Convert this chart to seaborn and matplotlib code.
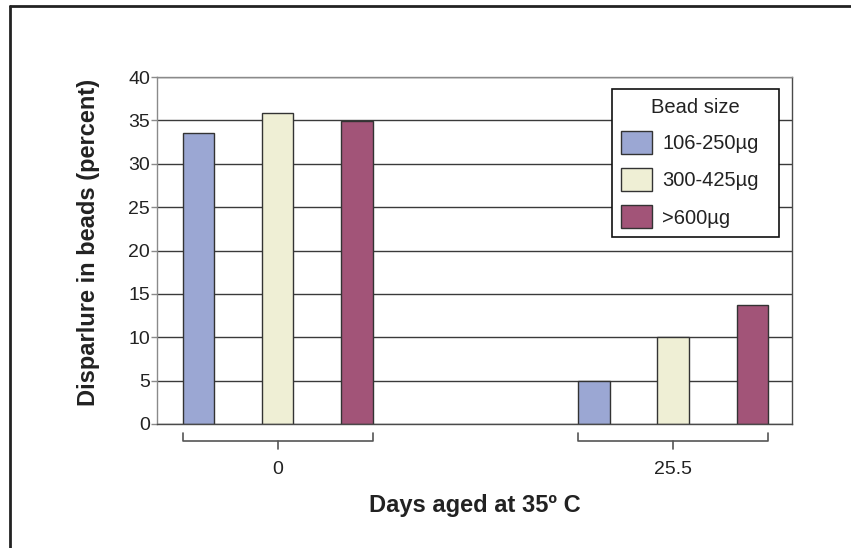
import matplotlib
matplotlib.use("Agg")
import matplotlib.pyplot as plt
import matplotlib.transforms as mtransforms
from matplotlib.lines import Line2D
import seaborn as sns
import pandas as pd

# Data
days = ["0", "25.5"]
bead_sizes = ["106-250µg", "300-425µg", ">600µg"]
pct_day0 = [33.6, 35.8, 34.9]
pct_day25 = [5.0, 10.0, 13.7]
bar_colors = ["#9ba7d3", "#efefd5", "#a25478"]
y_ticks = [0, 5, 10, 15, 20, 25, 30, 35, 40]

df = pd.DataFrame({
    "days": [days[0]] * 3 + [days[1]] * 3,
    "size": bead_sizes * 2,
    "pct": pct_day0 + pct_day25,
})

sns.set_theme(style="white")
plt.rcParams["font.family"] = ["Liberation Sans", "DejaVu Sans"]

fig = plt.figure(figsize=(8.51, 5.48), dpi=100)
ax = fig.add_axes([157 / 851, 1 - 424 / 548, 635 / 851, 347 / 548])

sns.barplot(data=df, x="days", y="pct", hue="size", order=days,
            hue_order=bead_sizes, palette=bar_colors, width=0.6, gap=0.6,
            edgecolor="#333333", linewidth=1.0, saturation=1, ax=ax)

ax.set_ylim(0, 40)
ax.set_xlim(-0.305, 1.3)
ax.set_yticks(y_ticks)
ax.set_axisbelow(True)
ax.yaxis.grid(True, color="#3a3a3a", linewidth=1.0)
ax.xaxis.grid(False)

for side in ["top", "left"]:
    ax.spines[side].set_color("#8a8a8a")
for side in ["right", "bottom"]:
    ax.spines[side].set_color("#4a4a4a")
for s in ax.spines.values():
    s.set_linewidth(1.0)
    s.set_visible(True)

ax.tick_params(axis="y", which="major", left=True, length=4, width=1,
               color="#8a8a8a", labelsize=14, labelcolor="#222222", pad=1)
ax.tick_params(axis="x", which="major", bottom=False, length=0,
               labelsize=14, labelcolor="#222222", pad=27)

ax.set_xlabel("Days aged at 35º C", fontsize=17, fontweight="bold",
              color="#222222", labelpad=11)
ax.set_ylabel("Disparlure in beads (percent)", fontsize=17,
              fontweight="bold", color="#222222")
ax.yaxis.set_label_coords(-0.09, 0.524)

# bracket under each category, spanning the bars of that group
trans = mtransforms.blended_transform_factory(ax.transData, ax.transAxes)
half = 0.2 + 0.04
for i in range(len(days)):
    ax.plot([i - half, i - half, i + half, i + half],
            [-0.026, -0.049, -0.049, -0.026], color="#555555", lw=1.2,
            transform=trans, clip_on=False)
    ax.plot([i, i], [-0.049, -0.071], color="#555555", lw=1.2,
            transform=trans, clip_on=False)

handles, labels = ax.get_legend_handles_labels()
ax.legend(handles, labels, title="Bead size", loc="upper left",
          bbox_to_anchor=(0.7165, 0.9654 - 0.4265, 0.263, 0.4265),
          mode="expand", fontsize=14.5, title_fontsize=14.5,
          frameon=True, fancybox=False, framealpha=1, edgecolor="#111111",
          borderpad=0.45, handlelength=1.54, handleheight=1.38,
          handletextpad=0.5, labelspacing=0.7, borderaxespad=0)
leg = ax.get_legend()
leg.get_frame().set_linewidth(1.2)
for t in leg.get_texts():
    t.set_color("#222222")
leg.get_title().set_color("#222222")

# outer frame (top and left edges, the rest is cropped)
fig.add_artist(Line2D([10 / 851, 10 / 851], [0, 1 - 6 / 548],
                      color="#222222", lw=2, transform=fig.transFigure))
fig.add_artist(Line2D([10 / 851, 1], [1 - 6 / 548, 1 - 6 / 548],
                      color="#222222", lw=2, transform=fig.transFigure))

fig.savefig("out.png", dpi=100)
